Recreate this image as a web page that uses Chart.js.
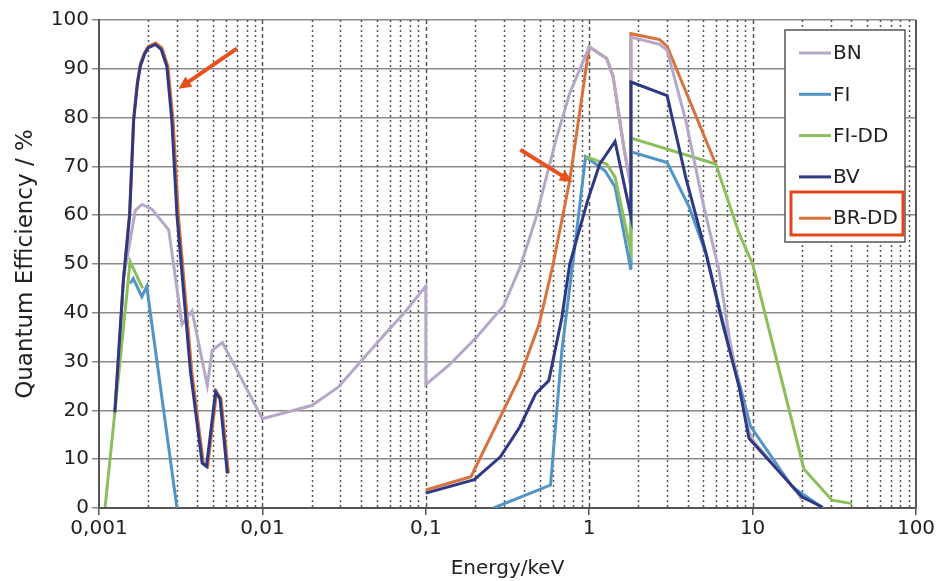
<!DOCTYPE html>
<html>
<head>
<meta charset="utf-8">
<script src="https://cdn.jsdelivr.net/npm/chart.js@4"></script>
<style>
  body { margin: 0; background: #fff; }
  #wrap { width: 942px; height: 581px; position: relative; }
</style>
</head>
<body>
<div id="wrap"><canvas id="grafico"></canvas></div>
<script>
// energias em keV, eficiencia em %; null = interrupcao da curva
const seriesLabels = ["BN", "FI", "FI-DD", "BV", "BR-DD"];
const seriesColors = ["#b6a7c9", "#4f95c8", "#8cbf5b", "#2e3883", "#d8723d"];

const bnEnergy = [0.00141, 0.00167, 0.00183, 0.0021, 0.00267, 0.00322, 0.00371, 0.0046, 0.00493, 0.00569,
  0.01, 0.02, 0.029, 0.04, 0.055, 0.074, 0.1, 0.1, 0.138, 0.203, 0.299, 0.376, 0.468, 0.63, 0.76,
  1.0, 1.28, 1.4, 1.63, 1.8, 1.8, 2.7, 3.0, 3.9, 5.04, 6.24, 7.2, 8.3, 9.5, 10.2, 18.3, 20];
const bnQE = [47, 61, 62.2, 61.3, 57, 37.6, 40.4, 25.1, 32.3, 33.9,
  18.3, 21, 24.7, 30, 35.3, 40, 45.5, 25.3, 29.2, 34.9, 41.4, 49.2, 59, 75.8, 85,
  94.5, 92.1, 88.5, 73.8, 65.8, 96.5, 95, 93.8, 79.4, 61.6, 48.6, 34.9, 24.6, 15.7, 13.6, 3.6, 1.8];

const fiEnergy = [0.00155, 0.00162, 0.00183, 0.00196, 0.003, null,
  0.26, 0.58, 0.68, 0.81, 0.95, 1.25, 1.44, 1.8, 1.8, 3.0, 4.1, 5.2, 6.5, 8.3, 9.7, 17.5, 27];
const fiQE = [46, 47, 43.3, 45.4, 0, null,
  0, 4.7, 32.2, 52.6, 72, 69.1, 65.8, 48.8, 73, 70.8, 61.6, 52, 38.8, 25.5, 16.8, 4.3, 0];

const fiddEnergy = [0.00109, 0.00125, 0.00155, 0.00185, null,
  0.95, 1.28, 1.44, 1.8, 1.8, 5.95, 8.3, 10, 20.6, 30.6, 40.6];
const fiddQE = [0.2, 19.6, 50.5, 45, null,
  72, 70.5, 67.8, 52.5, 75.8, 70.5, 56.1, 50, 8, 1.6, 0.9];

const bvEnergy = [0.00125, 0.00141, 0.00154, 0.00163, 0.00172, 0.00179, 0.0019, 0.002, 0.00221, 0.0024,
  0.0026, 0.00279, 0.003, 0.00363, 0.00428, 0.00455, 0.00517, 0.0055, 0.0061, null,
  0.1, 0.198, 0.286, 0.376, 0.47, 0.566, 0.68, 0.76, 0.98, 1.16, 1.44, 1.8, 1.8,
  3.0, 3.9, 5.2, 6.5, 8.3, 9.5, 20.1, 26.7];
const bvQE = [19.6, 46.7, 60, 79.5, 87, 90.5, 93, 94.3, 95, 94,
  90.5, 79.5, 60, 27.9, 9.2, 8.5, 23.8, 22.4, 7.1, null,
  3.05, 5.8, 10.5, 16.6, 23.4, 26.1, 39, 50, 63.1, 70.5, 75.1, 59.8, 87.3,
  84.5, 67.7, 52, 38.3, 24.6, 14.3, 2.25, 0.2];

const brddEnergy = [0.00125, 0.00141, 0.00154, 0.00163, 0.00172, 0.00179, 0.0019, 0.002, 0.00222, 0.00243,
  0.00264, 0.00284, 0.00306, 0.0037, 0.00435, 0.00462, 0.00525, 0.00558, 0.0062, null,
  0.1, 0.189, 0.249, 0.376, 0.494, 0.6, 0.76, 1.0, 1.28, 1.4, 1.63, 1.8, 1.8, 2.7, 3.0, 5.95];
const brddQE = [19.6, 46.7, 60.5, 80, 87.5, 91, 93.3, 94.6, 95.3, 94.3,
  90.5, 79.5, 60, 27.9, 9.2, 8.5, 23.8, 22.4, 7.1, null,
  3.7, 6.4, 14.6, 26.8, 37.7, 49.8, 67.1, 94.5, 92.1, 88.5, 73.8, 65.8, 97.2, 96, 94.6, 70.5];

const xTicks = [0.001, 0.01, 0.1, 1, 10, 100];
const yTicks = [0, 10, 20, 30, 40, 50, 60, 70, 80, 90, 100];

// setas vermelhas: [energia cauda, % cauda, energia ponta, % ponta]
const setas = [
  [0.0070, 94.2, 0.00307, 85.9],
  [0.379, 73.4, 0.789, 66.8]
];

const fonte = "'DejaVu Sans', sans-serif";

function montarPontos(energias, valores) {
  return energias.map((e, i) => ({ x: e === null ? energias[i - 1] : e, y: valores[i] }));
}

const dadosSeries = [
  [bnEnergy, bnQE],
  [fiEnergy, fiQE],
  [fiddEnergy, fiddQE],
  [bvEnergy, bvQE],
  [brddEnergy, brddQE]
];
const ordemDesenho = [2, 4, 3, 1, 5];

const datasets = dadosSeries.map((s, i) => ({
  label: seriesLabels[i],
  data: montarPontos(s[0], s[1]),
  borderColor: seriesColors[i],
  backgroundColor: seriesColors[i],
  borderWidth: 3,
  pointRadius: 0,
  tension: 0,
  spanGaps: false,
  order: ordemDesenho[i]
}));

const gradeVertical = {
  id: "gradeVertical",
  beforeDatasetsDraw(chart) {
    const ctx = chart.ctx;
    const area = chart.chartArea;
    const x = chart.scales.x;
    ctx.save();
    ctx.strokeStyle = "#555";
    ctx.lineWidth = 1.5;
    for (let d = 0; d < xTicks.length - 1; d++) {
      for (let k = 1; k <= 9; k++) {
        if (d === 0 && k === 1) continue;
        const px = Math.round(x.getPixelForValue(xTicks[d] * k)) + 0.5;
        ctx.setLineDash(k === 1 ? [4, 3] : [2, 3]);
        ctx.beginPath();
        ctx.moveTo(px, area.top);
        ctx.lineTo(px, area.bottom);
        ctx.stroke();
      }
    }
    ctx.setLineDash([]);
    ctx.lineWidth = 2;
    ctx.beginPath();
    ctx.moveTo(area.right, area.top);
    ctx.lineTo(area.right, area.bottom);
    ctx.stroke();
    ctx.restore();
  }
};

const setasELegenda = {
  id: "setasELegenda",
  afterDatasetsDraw(chart) {
    const ctx = chart.ctx;
    const x = chart.scales.x;
    const y = chart.scales.y;
    ctx.save();
    ctx.strokeStyle = "#e8501e";
    ctx.fillStyle = "#e8501e";
    ctx.lineWidth = 4;
    setas.forEach(s => {
      const x1 = x.getPixelForValue(s[0]), y1 = y.getPixelForValue(s[1]);
      const x2 = x.getPixelForValue(s[2]), y2 = y.getPixelForValue(s[3]);
      const ang = Math.atan2(y2 - y1, x2 - x1);
      const tam = 14;
      ctx.beginPath();
      ctx.moveTo(x1, y1);
      ctx.lineTo(x2 - Math.cos(ang) * tam * 0.8, y2 - Math.sin(ang) * tam * 0.8);
      ctx.stroke();
      ctx.beginPath();
      ctx.moveTo(x2, y2);
      ctx.lineTo(x2 - tam * Math.cos(ang - 0.45), y2 - tam * Math.sin(ang - 0.45));
      ctx.lineTo(x2 - tam * Math.cos(ang + 0.45), y2 - tam * Math.sin(ang + 0.45));
      ctx.closePath();
      ctx.fill();
    });
    ctx.restore();

    // legenda dentro do grafico
    const area = chart.chartArea;
    const bx = area.right - 131, by = area.top + 10;
    ctx.save();
    ctx.fillStyle = "#fff";
    ctx.fillRect(bx, by, 120, 212);
    ctx.strokeStyle = "#555";
    ctx.lineWidth = 1.5;
    ctx.strokeRect(bx, by, 120, 212);
    ctx.font = "20px " + fonte;
    ctx.textBaseline = "middle";
    chart.data.datasets.forEach((ds, i) => {
      const ly = by + 23 + i * 41.3;
      ctx.strokeStyle = ds.borderColor;
      ctx.lineWidth = 3;
      ctx.beginPath();
      ctx.moveTo(bx + 14, ly);
      ctx.lineTo(bx + 46, ly);
      ctx.stroke();
      ctx.fillStyle = "#222";
      ctx.fillText(ds.label, bx + 48, ly + 1);
    });
    ctx.strokeStyle = "#e2461f";
    ctx.lineWidth = 3;
    ctx.strokeRect(bx + 6, by + 162, 112, 43);
    ctx.restore();
  }
};

new Chart(document.getElementById("grafico"), {
  type: "line",
  data: { datasets: datasets },
  options: {
    responsive: true,
    maintainAspectRatio: false,
    animation: false,
    layout: { padding: { top: 20, right: 26, left: 0, bottom: 0 } },
    plugins: {
      legend: { display: false },
      tooltip: { enabled: false }
    },
    scales: {
      x: {
        type: "logarithmic",
        min: 0.001,
        max: 100,
        afterBuildTicks: axis => { axis.ticks = xTicks.map(v => ({ value: v })); },
        afterFit: scale => { scale.height = 73; },
        ticks: {
          autoSkip: false,
          maxRotation: 0,
          color: "#222",
          font: { family: fonte, size: 20 },
          padding: 2,
          callback: v => String(v).replace(".", ",")
        },
        grid: { drawOnChartArea: false, tickLength: 7, color: "#555", lineWidth: 1.5 },
        border: { color: "#555", width: 2 },
        title: {
          display: true,
          text: "Energy/keV",
          color: "#222",
          font: { family: fonte, size: 20 },
          padding: { top: 2, bottom: 0 }
        }
      },
      y: {
        min: 0,
        max: 100,
        afterBuildTicks: axis => { axis.ticks = yTicks.map(v => ({ value: v })); },
        afterFit: scale => { scale.width = 99; },
        ticks: {
          color: "#222",
          font: { family: fonte, size: 20 },
          padding: 3
        },
        grid: { color: "#8a8a8a", lineWidth: 1.5, tickLength: 7 },
        border: { color: "#555", width: 2 },
        title: {
          display: true,
          text: "Quantum Efficiency / %",
          color: "#222",
          font: { family: fonte, size: 23 },
          padding: { top: 12, bottom: 0 }
        }
      }
    }
  },
  plugins: [gradeVertical, setasELegenda]
});
</script>
</body>
</html>
